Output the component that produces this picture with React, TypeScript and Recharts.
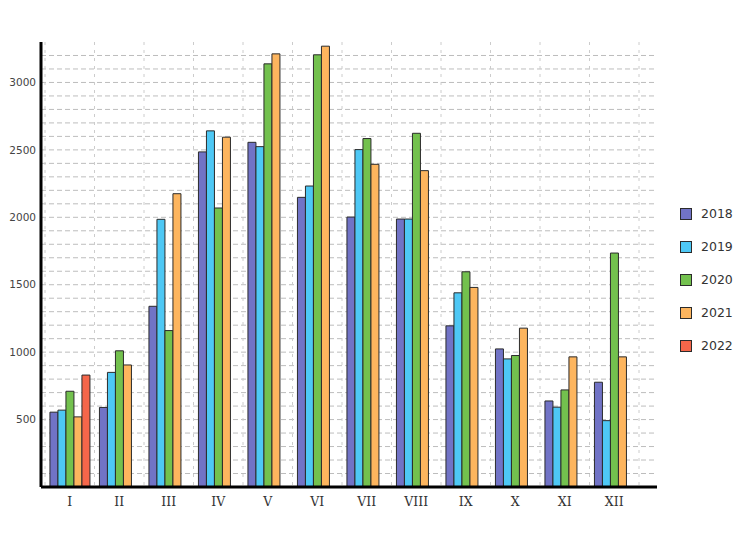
import { BarChart, Bar, XAxis, YAxis, CartesianGrid } from "recharts"

const MONTHS = ["I", "II", "III", "IV", "V", "VI", "VII", "VIII", "IX", "X", "XI", "XII"]

const Y2018 = [555, 590, 1340, 2485, 2556, 2148, 2002, 1987, 1195, 1024, 638, 777]
const Y2019 = [570, 850, 1985, 2641, 2524, 2232, 2502, 1987, 1440, 950, 592, 492]
const Y2020 = [710, 1010, 1160, 2069, 3138, 3205, 2584, 2623, 1596, 975, 720, 1735]
const Y2021 = [520, 905, 2175, 2594, 3212, 3269, 2393, 2346, 1480, 1178, 965, 965]
const Y2022 = [830, null, null, null, null, null, null, null, null, null, null, null]

const Y_TICKS = [500, 1000, 1500, 2000, 2500, 3000]
const Y_GRID = Array.from({ length: 32 }, (_, i) => (i + 1) * 100)
const Y_MAX = 3300

const SERIES = [
  { key: "2018", values: Y2018, color: "#7173c6" },
  { key: "2019", values: Y2019, color: "#4ec8f5" },
  { key: "2020", values: Y2020, color: "#73c14e" },
  { key: "2021", values: Y2021, color: "#fdb55e" },
  { key: "2022", values: Y2022, color: "#f5664a" },
]

const data = MONTHS.map((m, i) => {
  const row: Record<string, string | number | null> = { month: m }
  for (const s of SERIES) row[s.key] = s.values[i]
  return row
})

// horizontal grid every 100 via the y scale
const hGrid = ({ yAxis, offset }: any) => {
  const s = yAxis?.scale
  return Y_GRID.map((v) =>
    typeof s === "function" ? s(v) : offset.top + offset.height * (1 - v / Y_MAX)
  )
}

// vertical grid on the category boundaries
const vGrid = ({ xAxis, offset }: any) => {
  const s = xAxis?.scale
  if (typeof s === "function" && typeof s.bandwidth === "function") {
    const bw = s.bandwidth()
    return [...MONTHS.map((m) => s(m)), s(MONTHS[MONTHS.length - 1]) + bw]
  }
  const w = (offset.width - 22) / MONTHS.length
  return Array.from({ length: MONTHS.length + 1 }, (_, i) => offset.left + 4 + i * w)
}

export default function App() {
  return (
    <div style={{ position: "absolute", left: 0, top: 0, width: 744, height: 554, background: "#fff" }}>
      <BarChart
        width={744}
        height={554}
        data={data}
        margin={{ top: 42, right: 87, bottom: 0, left: 0 }}
        barGap={0}
        barCategoryGap="10%"
      >
        <CartesianGrid
          vertical={false}
          stroke="#bdbdbd"
          strokeDasharray="5 3"
          horizontalCoordinatesGenerator={hGrid}
        />
        <CartesianGrid
          horizontal={false}
          stroke="#cccccc"
          strokeDasharray="3 5"
          verticalCoordinatesGenerator={vGrid}
        />
        <XAxis
          dataKey="month"
          height={67}
          padding={{ left: 4, right: 18 }}
          axisLine={{ stroke: "#000", strokeWidth: 3 }}
          tickLine={false}
          tickSize={6}
          tickMargin={4}
          interval={0}
          tick={{ fill: "#333", fontSize: 12.5, fontFamily: "DejaVu Serif" }}
        />
        <YAxis
          width={41}
          domain={[0, Y_MAX]}
          ticks={Y_TICKS}
          allowDataOverflow
          axisLine={{ stroke: "#000", strokeWidth: 3 }}
          tickLine={false}
          tickSize={5}
          tickMargin={0}
          tick={{ fill: "#444", fontSize: 10.5, fontFamily: "DejaVu Sans" }}
        />
        {SERIES.map((s) => (
          <Bar
            key={s.key}
            dataKey={s.key}
            fill={s.color}
            stroke="#2b2b2b"
            strokeWidth={1}
            isAnimationActive={false}
          />
        ))}
      </BarChart>
      <div style={{ position: "absolute", left: 680, top: 197 }}>
        {SERIES.map((s) => (
          <div
            key={s.key}
            style={{ display: "flex", alignItems: "center", height: 33, fontFamily: "DejaVu Sans", fontSize: 12.5, color: "#333" }}
          >
            <span
              style={{ width: 10, height: 10, background: s.color, border: "1px solid #2b2b2b", marginRight: 9, display: "inline-block" }}
            />
            {s.key}
          </div>
        ))}
      </div>
    </div>
  )
}
